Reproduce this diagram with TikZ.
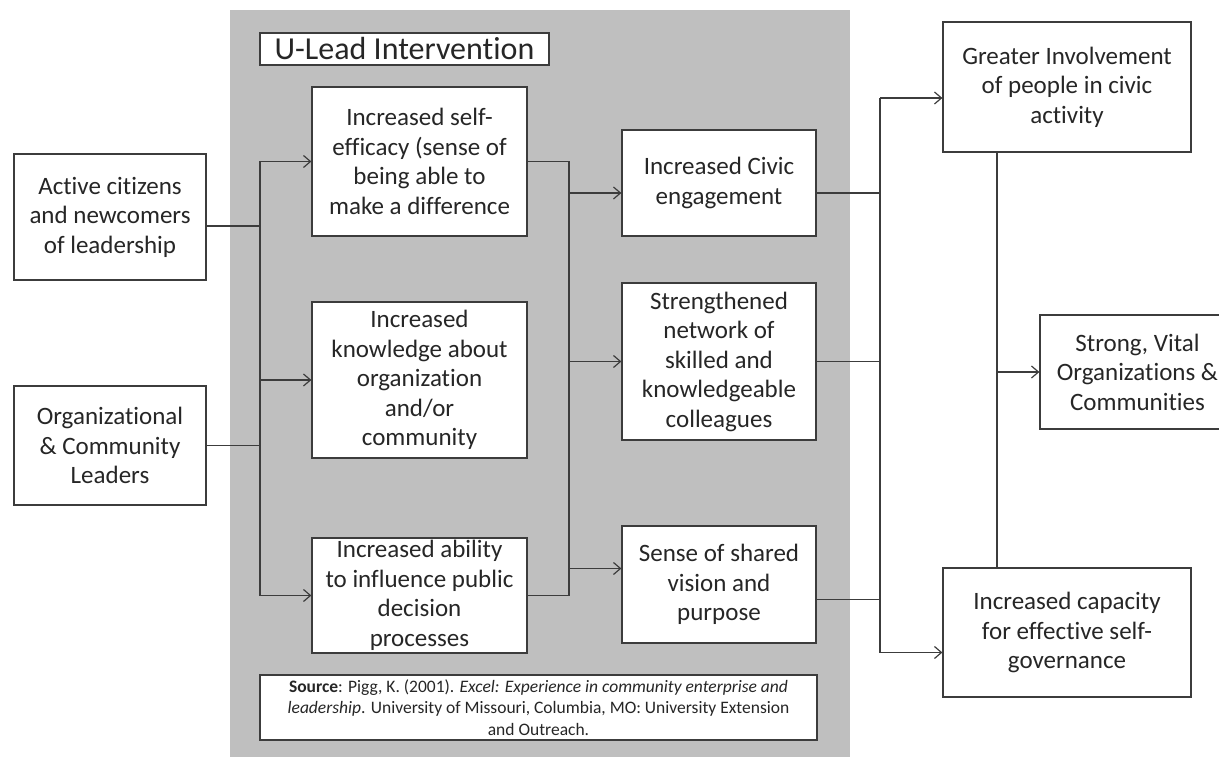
\documentclass[tikz,border=0pt]{standalone}
\usepackage{fontspec}
\setmainfont[RawFeature={-liga}]{Carlito}
\usetikzlibrary{arrows.meta}
\definecolor{panelgray}{RGB}{191,191,191}
\definecolor{linegray}{RGB}{60,60,60}

\begin{document}
\begin{tikzpicture}[x=1pt,y=-1pt,
        >={Straight Barb[length=7pt,width=12pt]},
        box/.style={draw=linegray,line width=1.2pt,fill=white,align=center,inner sep=0pt,
            font=\fontsize{25}{29.5}\selectfont,text=black!85},
        link/.style={draw=linegray,line width=1.2pt}]
        \useasboundingbox (0,0) rectangle (1219,757);
        \fill[panelgray](230,10) rectangle (850,757);
        \node[box,minimum width=289,minimum height=32,font=\fontsize{32}{34}\selectfont](title) at (404.5,49){U-Lead Intervention};
        \node[box,minimum width=192,minimum height=126](act) at (110,217){Active citizens\\and newcomers\\of leadership};
        \node[box,minimum width=192,minimum height=119](org) at (110,445.5){Organizational\\\& Community\\Leaders};
        \node[box,minimum width=215,minimum height=149](eff) at (419.5,161.5){Increased self-\\efficacy (sense of\\being able to\\make a difference};
        \node[box,minimum width=215,minimum height=156](know) at (419.5,380){Increased\\knowledge about\\organization\\and/or\\community};
        \node[box,minimum width=215,minimum height=115](abil) at (419.5,595.5){Increased ability\\to influence public\\decision\\processes};
        \node[box,minimum width=194,minimum height=106](civ) at (719,183){Increased Civic\\engagement};
        \node[box,minimum width=194,minimum height=157](net) at (719,361.5){Strengthened\\network of\\skilled and\\knowledgeable\\colleagues};
        \node[box,minimum width=194,minimum height=117](vis) at (719,584.5){Sense of shared\\vision and\\purpose};
        \node[box,minimum width=248,minimum height=130](inv) at (1067,87){Greater Involvement\\of people in civic\\activity};
        \node[box,minimum width=248,minimum height=129](cap) at (1067,632.5){Increased capacity\\for effective self-\\governance};
        \node[box,minimum width=195,minimum height=114](vital) at (1137.5,372){Strong, Vital\\Organizations \&\\Communities};
        \node[box,minimum width=557,minimum height=65,font=\fontsize{17.5}{21.5}\selectfont](src) at (538.5,707.5){\textbf{Source}: Pigg, K. (2001). \textit{Excel: Experience in community enterprise and}\\\textit{leadership}. University of Missouri, Columbia, MO: University Extension\\and Outreach.};
        \coordinate (tl) at (260,0);
        \coordinate (tm) at (569,0);
        \coordinate (tr) at (880,0);
        \coordinate (tf) at (997,0);
        \coordinate (actout) at ([yshift=-9pt]act.east);
        \coordinate (civin) at ([yshift=-10pt]civ.west);
        \coordinate (visin) at ([yshift=16pt]vis.west);
        \coordinate (civout) at ([yshift=-10pt]civ.east);
        \coordinate (visout) at ([yshift=-15pt]vis.east);
        \coordinate (invin) at ([yshift=-11pt]inv.west);
        \coordinate (capin) at ([yshift=-20pt]cap.west);
        \draw[link](actout)--(actout -| tl);
        \draw[link](org.east)--(org.east -| tl);
        \draw[link](eff.west -| tl)--(abil.west -| tl);
        \foreach \n in {eff,know,abil}{
            \draw[link,->](\n.west -| tl)--(\n.west);
        }
        \draw[link](eff.east)--(eff.east -| tm)--(abil.east -| tm)--(abil.east);
        \foreach \n in {civin,net.west,visin}{
            \draw[link,->](\n -| tm)--(\n);
        }
        \draw[link](civout)--(civout -| tr);
        \draw[link](net.east)--(net.east -| tr);
        \draw[link](visout)--(visout -| tr);
        \draw[link](invin -| tr)--(capin -| tr);
        \foreach \n in {invin,capin}{
            \draw[link,->](\n -| tr)--(\n);
        }
        \draw[link](inv.south -| tf)--(cap.north -| tf);
        \draw[link,->](vital.west -| tf)--(vital.west);
    \end{tikzpicture}
\end{document}
